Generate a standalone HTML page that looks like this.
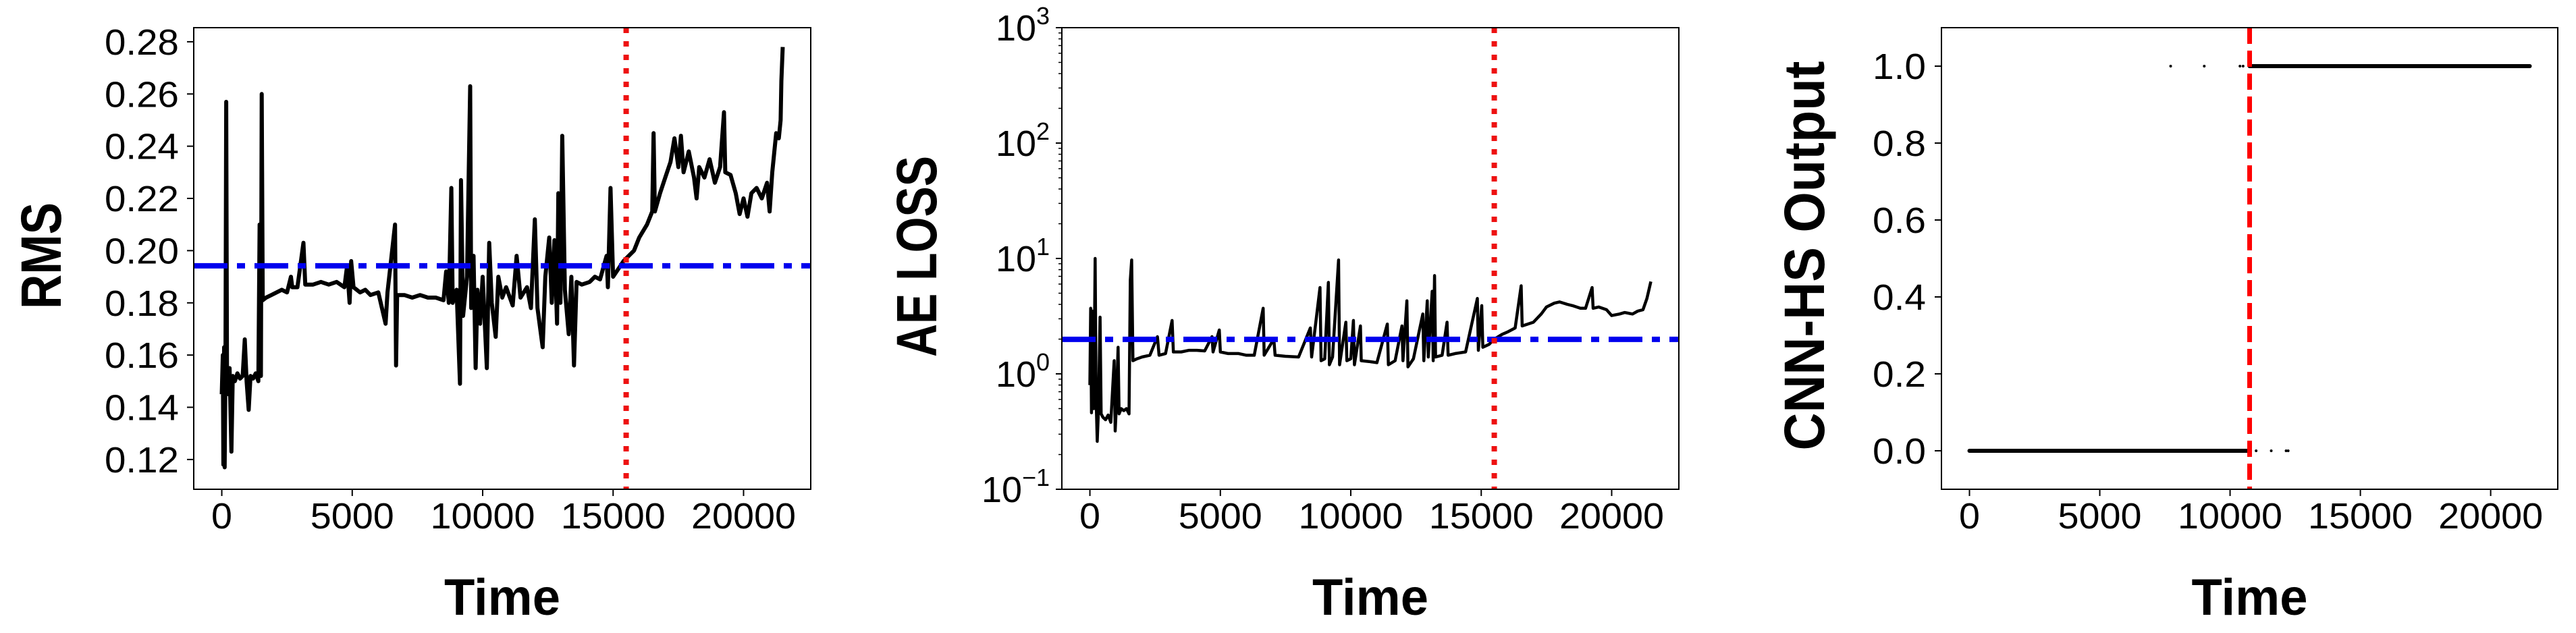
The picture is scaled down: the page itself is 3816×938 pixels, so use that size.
<!DOCTYPE html>
<html><head><meta charset="utf-8"><style>
html,body{margin:0;padding:0;background:#fff;}
svg{display:block;}
text{font-family:"Liberation Sans",sans-serif;fill:#000;}
</style></head><body>
<svg id="fig" width="3816" height="938" viewBox="0 0 3816 938" xmlns="http://www.w3.org/2000/svg"></svg>
<script>
// ---- data ----
const rmsT=[0,40,60,90,110,140,170,200,250,300,370,420,500,600,700,800,880,950,1030,1100,1200,1300,1400,1450,1500,1530,1570,1700,1900,2100,2300,2500,2650,2700,2900,3130,3200,3500,3800,4100,4400,4700,4800,4900,4960,5050,5300,5500,5700,6000,6280,6350,6640,6680,6720,7000,7300,7600,7900,8200,8500,8600,8700,8800,8850,9000,9130,9170,9250,9400,9520,9560,9650,9730,9800,9900,10000,10160,10250,10350,10500,10600,10750,10900,11150,11300,11450,11700,11850,12000,12100,12300,12400,12550,12650,12750,12850,12900,12980,13050,13150,13300,13400,13500,13600,13800,14100,14300,14500,14750,14800,14900,15000,15200,15400,15600,15800,16000,16300,16500,16550,16600,16800,17000,17200,17350,17500,17600,17700,17900,18100,18200,18300,18500,18700,18900,19100,19250,19300,19500,19700,19850,20000,20150,20300,20500,20700,20900,21000,21100,21250,21350,21420,21450,21500];
const rmsV=[0.145,0.16,0.118,0.163,0.117,0.155,0.257,0.15,0.145,0.155,0.123,0.152,0.15,0.153,0.151,0.152,0.166,0.15,0.139,0.152,0.151,0.153,0.15,0.21,0.152,0.26,0.181,0.182,0.183,0.184,0.185,0.184,0.19,0.186,0.186,0.203,0.187,0.187,0.188,0.187,0.188,0.186,0.194,0.18,0.196,0.186,0.184,0.185,0.183,0.184,0.172,0.184,0.21,0.156,0.183,0.183,0.182,0.183,0.182,0.182,0.181,0.192,0.18,0.224,0.18,0.185,0.149,0.227,0.175,0.19,0.263,0.178,0.198,0.155,0.185,0.172,0.19,0.155,0.203,0.18,0.167,0.19,0.182,0.186,0.179,0.198,0.182,0.186,0.178,0.212,0.178,0.163,0.19,0.205,0.18,0.204,0.172,0.222,0.18,0.244,0.185,0.168,0.19,0.156,0.188,0.187,0.188,0.19,0.189,0.198,0.186,0.224,0.19,0.193,0.196,0.198,0.2,0.205,0.21,0.215,0.245,0.215,0.222,0.228,0.234,0.243,0.232,0.244,0.23,0.238,0.228,0.22,0.232,0.228,0.235,0.226,0.232,0.253,0.23,0.229,0.222,0.214,0.22,0.213,0.222,0.224,0.22,0.226,0.215,0.23,0.245,0.243,0.25,0.265,0.278];
const rmsThreshold=0.1942;
const aeT=[0,30,60,100,150,200,240,280,330,390,430,500,600,700,800,930,970,1000,1080,1120,1200,1300,1400,1500,1550,1600,1650,1800,2000,2300,2590,2650,2900,3150,3200,3500,3800,4100,4400,4680,4720,4960,5000,5300,5700,6000,6300,6640,6680,7050,7100,7500,8000,8450,8500,8820,8860,9000,9140,9180,9300,9530,9570,9810,9850,10000,10100,10140,10370,10400,10700,11000,11400,11440,11700,11960,12000,12150,12190,12400,12760,12800,12930,12970,13120,13160,13210,13250,13500,13690,13730,14000,14400,14850,14890,15020,15060,15300,15500,15800,16000,16300,16530,16570,17000,17300,17500,17800,18000,18300,18500,18800,19000,19250,19290,19500,19800,20000,20300,20500,20800,21000,21200,21350,21500];
const aeV=[0.8,3.7,0.46,3.5,0.5,10,0.6,0.26,0.5,3.1,0.45,0.42,0.4,0.44,0.38,1.3,0.32,0.45,1.7,0.45,0.5,0.48,0.5,0.45,6.5,9.7,1.3,1.35,1.4,1.45,2.1,1.45,1.5,2.9,1.55,1.55,1.6,1.6,1.58,2.1,1.55,2.4,1.55,1.5,1.5,1.45,1.45,3.7,1.45,2.0,1.45,1.42,1.4,2.5,1.4,5.6,1.3,1.35,6.2,1.2,1.4,9.7,1.2,2.8,1.3,1.35,2.9,1.2,2.6,1.3,1.28,1.25,2.7,1.2,1.3,2.6,1.3,4.3,1.15,1.35,3.3,1.3,4.3,1.4,5.2,1.3,7.1,1.4,1.45,2.8,1.45,1.5,1.55,4.5,1.6,3.9,1.7,1.8,2.0,2.2,2.3,2.5,5.8,2.6,2.8,3.3,3.8,4.1,4.2,4.0,3.9,3.7,3.7,5.6,3.7,3.8,3.6,3.2,3.3,3.4,3.3,3.5,3.6,4.5,6.3];
const aeThreshold=1.99;
const cnnLowEnd=10750;
const cnnDots1=[7720,9010,10380,10500];
const cnnDots0=[11000,11580,12150,12230];
const tEnd=21500;
const faultT1=15500, faultT2=15500, faultT3=10750;
const xTicks=[0,5000,10000,15000,20000];
const rmsTicks=[0.12,0.14,0.16,0.18,0.20,0.22,0.24,0.26,0.28];
const rmsTickLabels=["0.12","0.14","0.16","0.18","0.20","0.22","0.24","0.26","0.28"];
const aeTicksExp=[-1,0,1,2,3];
const cnnTicks=[0,0.2,0.4,0.6,0.8,1.0];
const cnnTickLabels=["0.0","0.2","0.4","0.6","0.8","1.0"];

// ---- layout ----
const NS="http://www.w3.org/2000/svg";
const svg=document.getElementById('fig');
const TOP=41,BOT=725;
const XMIN=-1075,XMAX=22575;
const FS=54;
function mk(tag,attrs,parent){const e=document.createElementNS(NS,tag);for(const k in attrs)e.setAttribute(k,attrs[k]);(parent||svg).appendChild(e);return e;}
function labW(s){let w=0;for(const c of s){w+=(c==='.')?17:31;}return w;}
function makeX(l,r){return v=>l+(v-XMIN)/(XMAX-XMIN)*(r-l);}

function panel(name,l,r){
  const g=mk('g',{});
  
  
  const x=makeX(l,r);
  xTicks.forEach(v=>{
    const t=mk('line',{x1:x(v),x2:x(v),y1:BOT,y2:BOT+10,stroke:'#000','stroke-width':2},g);
    
    
    const s=String(v);
    const tx=mk('text',{x:x(v),y:783,'text-anchor':'middle','font-size':FS,textLength:labW(s),lengthAdjust:'spacingAndGlyphs'},g);
    tx.textContent=s;
    
    
  });
  const xt=mk('text',{x:(l+r)/2,y:911,'text-anchor':'middle','font-size':76,'font-weight':'bold',textLength:172,lengthAdjust:'spacingAndGlyphs'},g);
  xt.textContent='Time';
  
  
  return {g,x};
}

// ---------- Panel 1: RMS ----------
(function(){
  const l=287,r=1201;
  const {g,x}=panel('rms-panel',l,r);
  const y0=0.1086,y1=0.2854;
  const y=v=>BOT-(v-y0)/(y1-y0)*(BOT-TOP);
  rmsTicks.forEach((v,i)=>{
    const t=mk('line',{x1:l-10,x2:l,y1:y(v),y2:y(v),stroke:'#000','stroke-width':2},g);
    
    
    const s=rmsTickLabels[i];
    const tx=mk('text',{x:l-22,y:y(v)+19,'text-anchor':'end','font-size':FS,textLength:labW(s),lengthAdjust:'spacingAndGlyphs'},g);
    tx.textContent=s;
    
    
  });
  const pts=rmsT.map((t,i)=>x(t).toFixed(1)+','+y(rmsV[i]).toFixed(1)).join(' ');
  const pl=mk('polyline',{points:pts,fill:'none',stroke:'#000','stroke-width':6,'stroke-linejoin':'round'},g);
  
  
  const th=mk('line',{x1:l,x2:r,y1:y(rmsThreshold),y2:y(rmsThreshold),stroke:'#0000ee','stroke-width':8,'stroke-dasharray':'50,14,12,14'},g);
  
  
  const fl=mk('line',{x1:x(faultT1),x2:x(faultT1),y1:TOP,y2:BOT,stroke:'#ee1111','stroke-width':8,'stroke-dasharray':'8,12'},g);
  
  
  const fr=mk('rect',{x:l,y:TOP,width:r-l,height:BOT-TOP,fill:'none',stroke:'#000','stroke-width':2},g);
  
  
  const yt=mk('text',{transform:'translate(90,379) rotate(-90)','text-anchor':'middle','font-size':84,'font-weight':'bold',textLength:158,lengthAdjust:'spacingAndGlyphs'},g);
  yt.textContent='RMS';
  
  
})();

// ---------- Panel 2: AE LOSS ----------
(function(){
  const l=1573,r=2487;
  const {g,x}=panel('ae-loss-panel',l,r);
  const y=v=>BOT-(Math.log10(v)+1)/4*(BOT-TOP);
  aeTicksExp.forEach(e=>{
    const v=Math.pow(10,e);
    const t=mk('line',{x1:l-9,x2:l,y1:y(v),y2:y(v),stroke:'#000','stroke-width':2},g);
    
    
    const tx=mk('text',{x:l-18,y:y(v)+19,'text-anchor':'end','font-size':FS},g);
    
    
    const b=document.createElementNS(NS,'tspan');b.setAttribute('textLength',60);b.setAttribute('lengthAdjust','spacingAndGlyphs');b.textContent='10';tx.appendChild(b);
    const s=document.createElementNS(NS,'tspan');s.setAttribute('dy',-24);s.setAttribute('font-size',36);s.textContent=(e<0?'\u2212':'')+Math.abs(e);tx.appendChild(s);
    if(e<3){for(let m=2;m<=9;m++){
      const mv=m*v;
      const mt=mk('line',{x1:l-5,x2:l,y1:y(mv),y2:y(mv),stroke:'#000','stroke-width':1.5},g);
      
      
    }}
  });
  const pts=aeT.map((t,i)=>x(t).toFixed(1)+','+y(aeV[i]).toFixed(1)).join(' ');
  const pl=mk('polyline',{points:pts,fill:'none',stroke:'#000','stroke-width':4.5,'stroke-linejoin':'round'},g);
  
  
  const th=mk('line',{x1:l,x2:r,y1:y(aeThreshold),y2:y(aeThreshold),stroke:'#0000ee','stroke-width':8,'stroke-dasharray':'50,14,12,14'},g);
  
  
  const fl=mk('line',{x1:x(faultT2),x2:x(faultT2),y1:TOP,y2:BOT,stroke:'#ee1111','stroke-width':8,'stroke-dasharray':'8,12'},g);
  
  
  const fr=mk('rect',{x:l,y:TOP,width:r-l,height:BOT-TOP,fill:'none',stroke:'#000','stroke-width':2},g);
  
  
  const yt=mk('text',{transform:'translate(1387,380) rotate(-90)','text-anchor':'middle','font-size':84,'font-weight':'bold',textLength:298,lengthAdjust:'spacingAndGlyphs'},g);
  yt.textContent='AE LOSS';
  
  
})();

// ---------- Panel 3: CNN-HS Output ----------
(function(){
  const l=2876,r=3789;
  const {g,x}=panel('cnn-hs-panel',l,r);
  const y0=-0.1,y1=1.1;
  const y=v=>BOT-(v-y0)/(y1-y0)*(BOT-TOP);
  cnnTicks.forEach((v,i)=>{
    const t=mk('line',{x1:l-10,x2:l,y1:y(v),y2:y(v),stroke:'#000','stroke-width':2},g);
    
    
    const s=cnnTickLabels[i];
    const tx=mk('text',{x:l-23,y:y(v)+19,'text-anchor':'end','font-size':FS,textLength:labW(s),lengthAdjust:'spacingAndGlyphs'},g);
    tx.textContent=s;
    
    
  });
  const a=mk('line',{x1:x(0),x2:x(cnnLowEnd),y1:y(0),y2:y(0),stroke:'#000','stroke-width':6,'stroke-linecap':'round'},g);
  
  
  const b=mk('line',{x1:x(cnnLowEnd),x2:x(tEnd),y1:y(1),y2:y(1),stroke:'#000','stroke-width':6,'stroke-linecap':'round'},g);
  
  
  cnnDots1.forEach(t=>{const d=mk('circle',{cx:x(t),cy:y(1),r:2,fill:'#000'},g);
    
    });
  cnnDots0.forEach(t=>{const d=mk('circle',{cx:x(t),cy:y(0),r:2,fill:'#000'},g);
    
    });
  const fl=mk('line',{x1:x(faultT3),x2:x(faultT3),y1:TOP,y2:BOT,stroke:'#ff0000','stroke-width':7,'stroke-dasharray':'24,10'},g);
  
  
  const fr=mk('rect',{x:l,y:TOP,width:r-l,height:BOT-TOP,fill:'none',stroke:'#000','stroke-width':2},g);
  
  
  const yt=mk('text',{transform:'translate(2702,379) rotate(-90)','text-anchor':'middle','font-size':84,'font-weight':'bold',textLength:577,lengthAdjust:'spacingAndGlyphs'},g);
  yt.textContent='CNN-HS Output';
  
  
})();
</script>
</body></html>
